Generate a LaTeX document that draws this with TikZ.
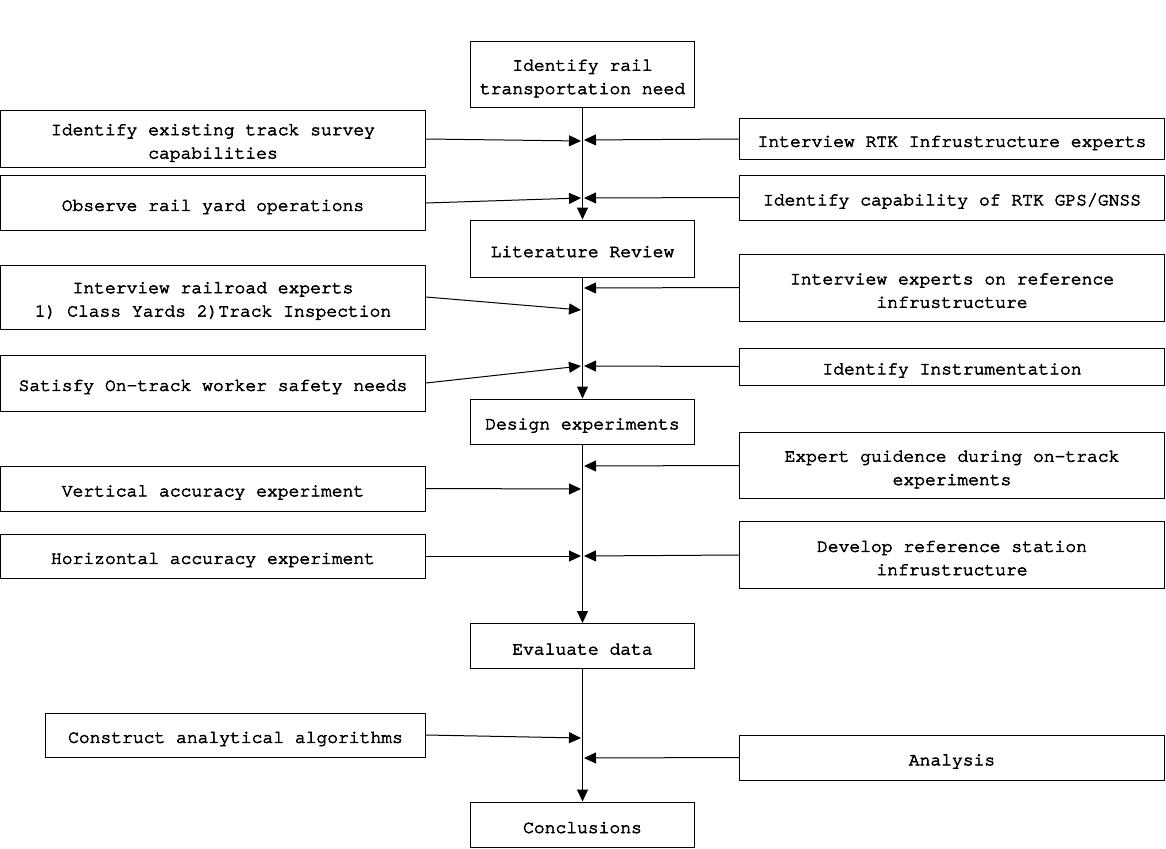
\documentclass[tikz,border=0pt]{standalone}
\usepackage{fontspec}
\newfontfamily\boxfont[FakeBold=3.4]{TeX Gyre Cursor}
\usetikzlibrary{arrows.meta}
\newcommand\lnst{\rule[-2pt]{0pt}{21pt}}
\begin{document}
\begin{tikzpicture}[x=1pt,y=-1pt,
  box/.style={draw, line width=1pt, inner sep=0pt, align=center,
    font=\boxfont\fontsize{18}{21.5}\selectfont},
  mainbox/.style={box, minimum width=224pt},
  sidebox/.style={box, minimum width=425pt},
  arr/.style={line width=1pt, -{Triangle[length=12pt,width=11pt]}}]
\useasboundingbox (0,0) rectangle (1166,848);
% main column
\node[mainbox, minimum height=66pt] (top) at (582.5,74.5) {\lnst Identify rail\\\lnst transportation need};
\node[mainbox, minimum height=57pt] (lit) at (582.5,248.5) {\lnst Literature Review};
\node[mainbox, minimum height=45pt] (des) at (582.5,421.5) {\lnst Design experiments};
\node[mainbox, minimum height=45pt] (eva) at (582.5,646) {\lnst Evaluate data};
\node[mainbox, minimum height=45pt] (con) at (582.5,824.5) {\lnst Conclusions};
% left boxes
\node[sidebox, minimum height=56pt] (l1) at (213,139) {\lnst Identify existing track survey\\\lnst capabilities};
\node[sidebox, minimum height=55pt] (l2) at (213,203) {\lnst Observe rail yard operations};
\node[sidebox, minimum height=64pt] (l3) at (213,297) {\lnst Interview railroad experts\\\lnst 1) Class Yards 2)Track Inspection};
\node[sidebox, minimum height=56pt] (l4) at (213,383) {\lnst Satisfy On-track worker safety needs};
\node[sidebox, minimum height=45pt] (l5) at (213,488.5) {\lnst Vertical accuracy experiment};
\node[sidebox, minimum height=44pt] (l6) at (213,556) {\lnst Horizontal accuracy experiment};
\node[box, minimum width=380pt, minimum height=44pt] (l7) at (235.5,735) {\lnst Construct analytical algorithms};
% right boxes
\node[sidebox, minimum height=40pt] (r1) at (952,139) {\lnst Interview RTK Infrustructure experts};
\node[sidebox, minimum height=45pt] (r2) at (952,197.5) {\lnst Identify capability of RTK GPS/GNSS};
\node[sidebox, minimum height=67pt] (r3) at (952,287.5) {\lnst Interview experts on reference\\\lnst infrustructure};
\node[sidebox, minimum height=37pt] (r4) at (952,366.5) {\lnst Identify Instrumentation};
\node[sidebox, minimum height=66pt] (r5) at (952,465.5) {\lnst Expert guidence during on-track\\\lnst experiments};
\node[sidebox, minimum height=67pt] (r6) at (952,555) {\lnst Develop reference station\\\lnst infrustructure};
\node[sidebox, minimum height=45pt] (r7) at (952,757.5) {\lnst Analysis};
% trunk coordinates
\coordinate (tl1) at (581,141);
\coordinate (tr1) at (584,140);
\coordinate (tl2) at (581,198);
\coordinate (tr2) at (584,198);
\coordinate (tl3) at (581,310);
\coordinate (tr3) at (584,288);
\coordinate (tl4) at (581,366);
\coordinate (tr4) at (584,366);
\coordinate (tl5) at (581,489);
\coordinate (tr5) at (584,466);
\coordinate (tl6) at (581,556);
\coordinate (tr6) at (584,556);
\coordinate (tl7) at (581,738);
\coordinate (tr7) at (584,758);
% trunk
\draw[arr] (top.south) -- (lit.north);
\draw[arr] (lit.south) -- (des.north);
\draw[arr] (des.south) -- (eva.north);
\draw[arr] (eva.south) -- (con.north);
% side arrows
\draw[arr] (l1.east) -- (tl1);
\draw[arr] (r1.west) -- (tr1);
\draw[arr] (l2.east) -- (tl2);
\draw[arr] (r2.west) -- (tr2);
\draw[arr] (l3.east) -- (tl3);
\draw[arr] (r3.west) -- (tr3);
\draw[arr] (l4.east) -- (tl4);
\draw[arr] (r4.west) -- (tr4);
\draw[arr] (l5.east) -- (tl5);
\draw[arr] (r5.west) -- (tr5);
\draw[arr] (l6.east) -- (tl6);
\draw[arr] (r6.west) -- (tr6);
\draw[arr] (l7.east) -- (tl7);
\draw[arr] (r7.west) -- (tr7);
\end{tikzpicture}
\end{document}
